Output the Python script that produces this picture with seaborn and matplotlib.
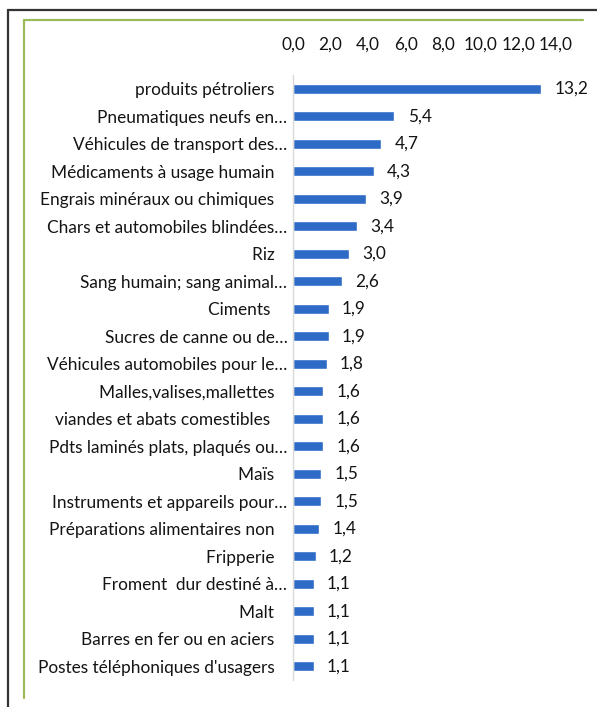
import matplotlib
matplotlib.use("Agg")
import matplotlib.pyplot as plt
import seaborn as sns
import pandas as pd
from matplotlib.lines import Line2D

produits = [
    "produits pétroliers   ",
    "Pneumatiques neufs en…",
    "Véhicules de transport des…",
    "Médicaments à usage humain   ",
    "Engrais minéraux ou chimiques   ",
    "Chars et automobiles blindées…",
    "Riz   ",
    "Sang humain; sang animal…",
    "Ciments    ",
    "Sucres de canne ou de…",
    "Véhicules automobiles pour le…",
    "Malles,valises,mallettes   ",
    "viandes et abats comestibles    ",
    "Pdts laminés plats, plaqués ou…",
    "Maïs   ",
    "Instruments et appareils pour…",
    "Préparations alimentaires non   ",
    "Fripperie   ",
    "Froment  dur destiné à…",
    "Malt   ",
    "Barres en fer ou en aciers   ",
    "Postes téléphoniques d'usagers   ",
]
parts = [13.2, 5.4, 4.7, 4.3, 3.9, 3.4, 3.0, 2.6, 1.9, 1.9, 1.8,
         1.6, 1.6, 1.6, 1.5, 1.5, 1.4, 1.2, 1.1, 1.1, 1.1, 1.1]
ticks = [0, 2, 4, 6, 8, 10, 12, 14]

df = pd.DataFrame({"produit": produits, "part": parts})

sns.set_style("white")
plt.rcParams["font.family"] = ["Lato", "DejaVu Sans"]
txt = "#141414"
fs = 12.4

fig = plt.figure(figsize=(5.97, 7.07), dpi=100)
ax = fig.add_axes([293 / 597, 1 - 680 / 707, (556 - 293) / 597, (680 - 75) / 707])

sns.barplot(data=df, x="part", y="produit", color="#2E6BC6", width=0.36,
            saturation=1, ax=ax)

ax.set_xlim(0, 14)
ax.set_xticks(ticks)
ax.set_xticklabels([f"{t:.1f}".replace(".", ",") for t in ticks],
                   fontsize=fs, color=txt)
ax.xaxis.tick_top()
ax.tick_params(axis="x", length=0, pad=16)
ax.tick_params(axis="y", length=0, pad=4, labelsize=fs, labelcolor=txt)
ax.set_xlabel("")
ax.set_ylabel("")
for s in ["top", "right", "bottom"]:
    ax.spines[s].set_visible(False)
ax.spines["left"].set_color("#d9d9d9")
ax.spines["left"].set_linewidth(1)

for i, v in enumerate(parts):
    ax.annotate(f"{v:.1f}".replace(".", ","), (v, i), xytext=(9.5, 0),
                textcoords="offset points", va="center", ha="left",
                fontsize=fs, color=txt)

# cadre extérieur (noir) et liseré vert
fy = lambda y: 1 - y / 707
fx = lambda x: x / 597
for xs, ys, c in [
    ([fx(8), 1.0], [fy(10)] * 2, "#333333"),
    ([fx(8)] * 2, [fy(10), 0.0], "#333333"),
    ([fx(24), fx(583)], [fy(20)] * 2, "#9BBB59"),
    ([fx(24)] * 2, [fy(20), fy(698)], "#9BBB59"),
]:
    fig.lines.append(Line2D(xs, ys, transform=fig.transFigure, color=c,
                            linewidth=1.6))

fig.savefig("out.png", dpi=100)
